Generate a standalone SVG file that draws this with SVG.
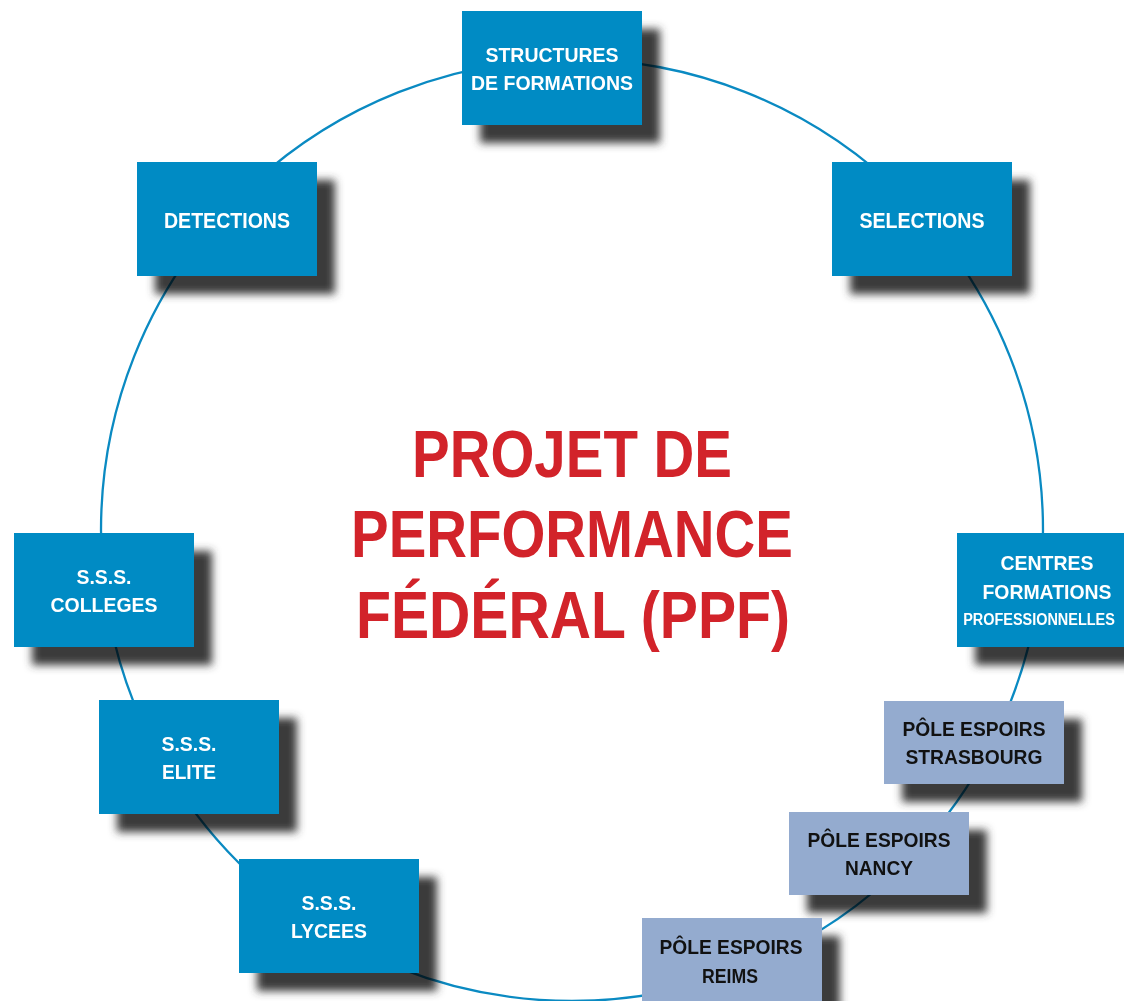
<svg xmlns="http://www.w3.org/2000/svg" width="1124" height="1001" viewBox="0 0 1124 1001">
<defs>
<filter id="blur" x="-25%" y="-25%" width="150%" height="150%"><feGaussianBlur stdDeviation="4.5"/></filter>
<style>
.sh{fill:#3a3a3a;filter:url(#blur)}
.blue{fill:#008bc4}
.pole{fill:#94abcf}
.wt{font-family:"Liberation Sans",Arial,sans-serif;font-weight:bold;font-size:21px;fill:#ffffff;text-anchor:middle}
.bt{font-family:"Liberation Sans",Arial,sans-serif;font-weight:bold;font-size:20px;fill:#111111;text-anchor:middle}
.title{font-family:"Liberation Sans",Arial,sans-serif;font-weight:bold;font-size:66px;fill:#d2232a;text-anchor:middle}
.ring{fill:none;stroke:#0a8ac2;stroke-width:2.3;mix-blend-mode:multiply}
</style>
</defs>
<rect width="1124" height="1001" fill="#ffffff"/>
<g id="shadows">
<rect class="sh" x="480" y="29" width="180" height="114"/>
<rect class="sh" x="850" y="180" width="180" height="114"/>
<rect class="sh" x="975" y="551" width="180" height="114"/>
<rect class="sh" x="902" y="719" width="180" height="83"/>
<rect class="sh" x="807" y="830" width="180" height="83"/>
<rect class="sh" x="660" y="936" width="180" height="83"/>
<rect class="sh" x="257" y="877" width="180" height="114"/>
<rect class="sh" x="117" y="718" width="180" height="114"/>
<rect class="sh" x="32" y="551" width="180" height="114"/>
<rect class="sh" x="155" y="180" width="180" height="114"/>
</g>
<g id="connectors">
<circle class="ring" cx="572" cy="530" r="471"/>
</g>
<g id="title">
<text class="title" x="572" y="477" textLength="320" lengthAdjust="spacingAndGlyphs">PROJET DE</text>
<text class="title" x="572" y="557" textLength="442" lengthAdjust="spacingAndGlyphs">PERFORMANCE</text>
<text class="title" x="573" y="638" textLength="434" lengthAdjust="spacingAndGlyphs">FÉDÉRAL (PPF)</text>
</g>
<g id="node-structures">
<rect class="blue" x="462" y="11" width="180" height="114"/>
<text class="wt" x="552" y="62" textLength="133" lengthAdjust="spacingAndGlyphs">STRUCTURES</text>
<text class="wt" x="552" y="90" textLength="162" lengthAdjust="spacingAndGlyphs">DE FORMATIONS</text>
</g>
<g id="node-selections">
<rect class="blue" x="832" y="162" width="180" height="114"/>
<text class="wt" x="922" y="228" style="font-size:22px" textLength="125" lengthAdjust="spacingAndGlyphs">SELECTIONS</text>
</g>
<g id="node-centres">
<rect class="blue" x="957" y="533" width="167" height="114"/>
<text class="wt" x="1047" y="570" textLength="93" lengthAdjust="spacingAndGlyphs">CENTRES</text>
<text class="wt" x="1047" y="599" textLength="129" lengthAdjust="spacingAndGlyphs">FORMATIONS</text>
<g transform="translate(1039,625) scale(0.85,1)"><text class="wt" x="0" y="0" style="font-size:17px">PROFESSIONNELLES</text></g>
</g>
<g id="node-pole-strasbourg">
<rect class="pole" x="884" y="701" width="180" height="83"/>
<text class="bt" x="974" y="736" textLength="143" lengthAdjust="spacingAndGlyphs">PÔLE ESPOIRS</text>
<text class="bt" x="974" y="764" textLength="137" lengthAdjust="spacingAndGlyphs">STRASBOURG</text>
</g>
<g id="node-pole-nancy">
<rect class="pole" x="789" y="812" width="180" height="83"/>
<text class="bt" x="879" y="847" textLength="143" lengthAdjust="spacingAndGlyphs">PÔLE ESPOIRS</text>
<text class="bt" x="879" y="875" textLength="68" lengthAdjust="spacingAndGlyphs">NANCY</text>
</g>
<g id="node-pole-reims">
<rect class="pole" x="642" y="918" width="180" height="83"/>
<text class="bt" x="731" y="954" textLength="143" lengthAdjust="spacingAndGlyphs">PÔLE ESPOIRS</text>
<text class="bt" x="730" y="983" textLength="56" lengthAdjust="spacingAndGlyphs">REIMS</text>
</g>
<g id="node-sss-lycees">
<rect class="blue" x="239" y="859" width="180" height="114"/>
<text class="wt" x="329" y="910" textLength="55" lengthAdjust="spacingAndGlyphs">S.S.S.</text>
<text class="wt" x="329" y="938" textLength="76" lengthAdjust="spacingAndGlyphs">LYCEES</text>
</g>
<g id="node-sss-elite">
<rect class="blue" x="99" y="700" width="180" height="114"/>
<text class="wt" x="189" y="751" textLength="55" lengthAdjust="spacingAndGlyphs">S.S.S.</text>
<text class="wt" x="189" y="779" textLength="54" lengthAdjust="spacingAndGlyphs">ELITE</text>
</g>
<g id="node-sss-colleges">
<rect class="blue" x="14" y="533" width="180" height="114"/>
<text class="wt" x="104" y="584" textLength="55" lengthAdjust="spacingAndGlyphs">S.S.S.</text>
<text class="wt" x="104" y="612" textLength="107" lengthAdjust="spacingAndGlyphs">COLLEGES</text>
</g>
<g id="node-detections">
<rect class="blue" x="137" y="162" width="180" height="114"/>
<text class="wt" x="227" y="228" style="font-size:22px" textLength="126" lengthAdjust="spacingAndGlyphs">DETECTIONS</text>
</g>
</svg>
